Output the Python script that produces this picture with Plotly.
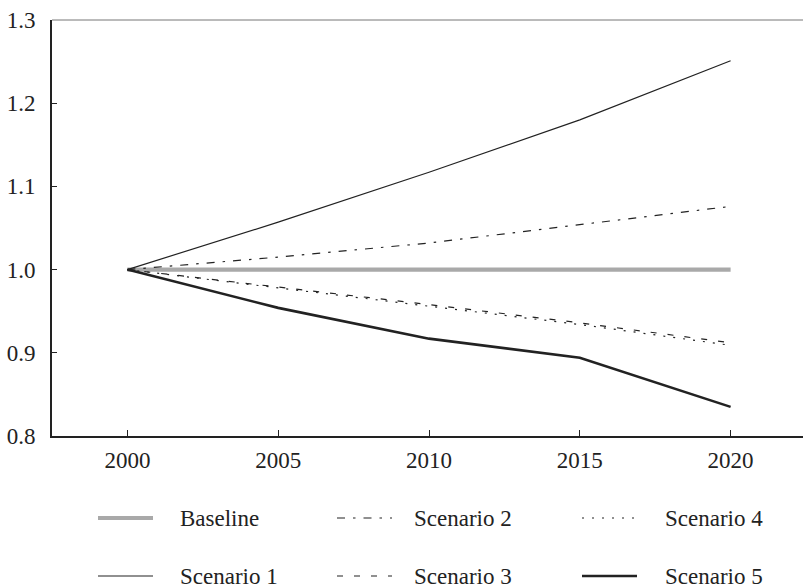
import plotly.graph_objects as go

# Index values (2000 = 1.0) for each scenario
years = [2000, 2005, 2010, 2015, 2020]
baseline = [1.0, 1.0, 1.0, 1.0, 1.0]
scenario_1 = [1.0, 1.057, 1.117, 1.180, 1.251]
scenario_2 = [1.0, 1.015, 1.032, 1.054, 1.076]
scenario_3 = [1.0, 0.979, 0.958, 0.936, 0.912]
scenario_4 = [1.0, 0.978, 0.956, 0.934, 0.909]
scenario_5 = [1.0, 0.954, 0.917, 0.894, 0.835]

y_ticks = [0.8, 0.9, 1.0, 1.1, 1.2, 1.3]
x_ticks = [2000, 2005, 2010, 2015, 2020]

INK = "#222222"
FONT = "Liberation Serif"
W, H = 803, 588
ML, MR, MT, MB = 52, 0, 20, 152

series = [
    ("Baseline", baseline, dict(color="#a9a9a9", width=4.2, dash="solid")),
    ("Scenario 1", scenario_1, dict(color=INK, width=1.2, dash="solid")),
    ("Scenario 2", scenario_2, dict(color=INK, width=1.2, dash="8px,8px,2.5px,8px")),
    ("Scenario 3", scenario_3, dict(color=INK, width=1.2, dash="6px,11px")),
    ("Scenario 4", scenario_4, dict(color=INK, width=1.2, dash="2px,8px")),
    ("Scenario 5", scenario_5, dict(color=INK, width=2.6, dash="solid")),
]

fig = go.Figure()
for name, vals, line in series:
    fig.add_trace(go.Scatter(x=years, y=vals, mode="lines", name=name,
                             line=line, showlegend=False))

# Hand-placed legend: 3 columns x 2 rows, positions in pixels
pw, ph = W - ML - MR, H - MT - MB


def px_x(px):
    return (px - ML) / pw


def px_y(py):
    return (H - MB - py) / ph


legend_slots = {
    "Baseline": (98, 178, 518),
    "Scenario 2": (337, 412, 518),
    "Scenario 4": (582, 663, 518),
    "Scenario 1": (98, 178, 576),
    "Scenario 3": (337, 412, 576),
    "Scenario 5": (582, 663, 576),
}
for name, vals, line in series:
    x0, tx, yy = legend_slots[name]
    fig.add_shape(type="line", xref="paper", yref="paper",
                  x0=px_x(x0), x1=px_x(x0 + 55), y0=px_y(yy), y1=px_y(yy),
                  line=line)
    fig.add_annotation(xref="paper", yref="paper", x=px_x(tx), y=px_y(yy),
                       text=name, showarrow=False, xanchor="left",
                       yanchor="middle",
                       font=dict(family=FONT, size=23, color=INK))

# thin grey frame line along the top of the plot area
fig.add_shape(type="line", xref="paper", yref="paper", x0=0, x1=1, y0=1, y1=1,
              line=dict(color="#777777", width=1))

fig.update_layout(
    width=W, height=H,
    margin=dict(l=ML, r=MR, t=MT, b=MB),
    paper_bgcolor="white", plot_bgcolor="white",
    font=dict(family=FONT, size=23, color=INK),
    xaxis=dict(range=[1997.5, 2022.4], tickvals=x_ticks,
               ticks="inside", ticklen=6, tickwidth=1.2, tickcolor=INK,
               showline=True, linecolor=INK, linewidth=1.6,
               showgrid=False, zeroline=False, ticklabelstandoff=3),
    yaxis=dict(range=[0.8, 1.3], tickvals=y_ticks,
               ticktext=[f"{v:.1f}" for v in y_ticks],
               ticks="inside", ticklen=5, tickwidth=1.2, tickcolor=INK,
               showline=True, linecolor=INK, linewidth=2,
               showgrid=False, zeroline=False, ticklabelstandoff=10),
)

fig.write_html("out.html")
